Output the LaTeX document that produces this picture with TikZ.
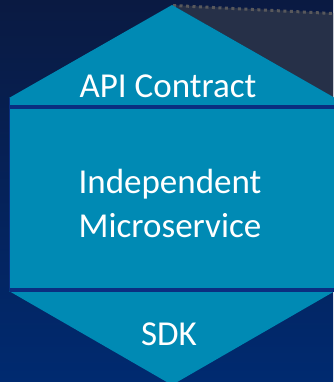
\documentclass[tikz,border=0pt]{standalone}
\usepackage{fontspec}
\setmainfont{Carlito}
\usepackage{tikz}

\definecolor{bgtop}{RGB}{10,26,66}
\definecolor{bgbot}{RGB}{0,42,112}
\definecolor{hexfill}{RGB}{0,138,180}
\definecolor{bandline}{RGB}{10,46,128}
\definecolor{shadowgray}{RGB}{38,48,72}
\definecolor{dotgray}{RGB}{88,88,92}

\begin{document}
\begin{tikzpicture}[x=1pt, y=-1pt,
  label/.style={text=white, font=\fontsize{35}{44}\selectfont, inner sep=0pt, anchor=base, align=center}]
\shade[top color=bgtop, bottom color=bgbot] (0,0) rectangle (333,382);
\useasboundingbox (0,0) rectangle (333,382);

\fill[shadowgray] (172,5) -- (333,13) -- (333,97) -- cycle;
\draw[dotgray, line width=3pt, dash pattern=on 3pt off 3.5pt] (173,5.5) -- (333,13.5);

\fill[hexfill] (172,5) -- (335,98) -- (335,291) -- (172,385) -- (9,291) -- (9,98) -- cycle;
\draw[bandline, line width=0.8pt] (9.4,98) -- (9.4,291);
\draw[bandline, line width=4pt] (10,107) -- (335,107);
\draw[bandline, line width=4pt] (10,290) -- (335,290);

\node[label] (api) at (168,98) {API Contract};
\node[label] (core) at (170,237) {Independent\\Microservice};
\node[label] (sdk) at (169,345) {SDK};
\end{tikzpicture}
\end{document}
